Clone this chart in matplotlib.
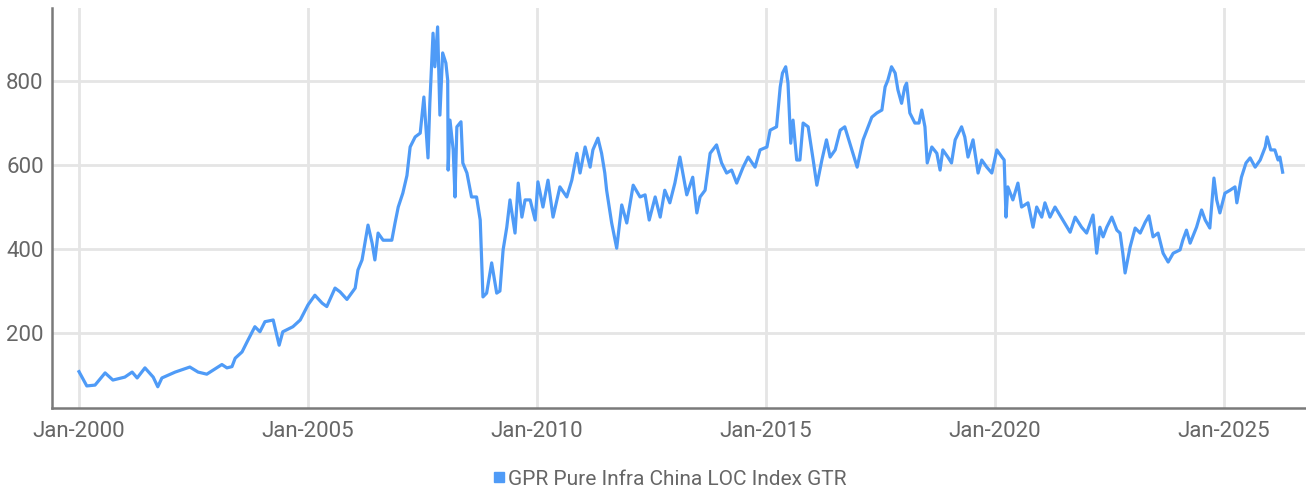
import matplotlib
matplotlib.use("Agg")
import matplotlib.pyplot as plt
from matplotlib.lines import Line2D

# Dates as fractional years, index values
t_years = [
    2000.00, 2000.17, 2000.35, 2000.57, 2000.74, 2001.00, 2001.16, 2001.27, 2001.44, 2001.62,
    2001.72, 2001.81, 2002.10, 2002.42, 2002.60, 2002.79, 2003.12, 2003.23, 2003.34, 2003.41,
    2003.56, 2003.67, 2003.84, 2003.95, 2004.06, 2004.24, 2004.37, 2004.45, 2004.67, 2004.83,
    2005.00, 2005.15, 2005.31, 2005.41, 2005.59, 2005.70, 2005.85, 2006.03, 2006.09, 2006.18,
    2006.31, 2006.40, 2006.46, 2006.53, 2006.64, 2006.83, 2006.90, 2006.97, 2007.07, 2007.16,
    2007.23, 2007.34, 2007.45, 2007.53, 2007.62, 2007.66, 2007.73, 2007.77, 2007.83, 2007.88,
    2007.94, 2008.01, 2008.05, 2008.06, 2008.10, 2008.17, 2008.21, 2008.25, 2008.34, 2008.38,
    2008.47, 2008.57, 2008.68, 2008.76, 2008.82, 2008.90, 2009.01, 2009.12, 2009.19, 2009.26,
    2009.34, 2009.41, 2009.52, 2009.59, 2009.67, 2009.74, 2009.85, 2009.96, 2010.02, 2010.13,
    2010.24, 2010.35, 2010.50, 2010.65, 2010.76, 2010.87, 2010.94, 2011.05, 2011.16, 2011.22,
    2011.33, 2011.41, 2011.48, 2011.52, 2011.63, 2011.74, 2011.85, 2011.96, 2012.10, 2012.25,
    2012.36, 2012.45, 2012.58, 2012.69, 2012.79, 2012.90, 2013.01, 2013.12, 2013.27, 2013.40,
    2013.49, 2013.56, 2013.67, 2013.78, 2013.92, 2014.03, 2014.14, 2014.25, 2014.36, 2014.50,
    2014.61, 2014.76, 2014.87, 2015.02, 2015.09, 2015.23, 2015.31, 2015.36, 2015.43, 2015.48,
    2015.54, 2015.59, 2015.67, 2015.74, 2015.81, 2015.92, 2016.03, 2016.11, 2016.22, 2016.32,
    2016.40, 2016.51, 2016.62, 2016.72, 2016.83, 2016.90, 2016.99, 2017.12, 2017.23, 2017.31,
    2017.42, 2017.53, 2017.60, 2017.66, 2017.74, 2017.82, 2017.88, 2017.96, 2018.03, 2018.07,
    2018.14, 2018.25, 2018.34, 2018.40, 2018.47, 2018.52, 2018.62, 2018.73, 2018.80, 2018.86,
    2018.97, 2019.05, 2019.13, 2019.27, 2019.34, 2019.41, 2019.52, 2019.63, 2019.71, 2019.82,
    2019.93, 2020.04, 2020.15, 2020.20, 2020.24, 2020.28, 2020.39, 2020.50, 2020.58, 2020.72,
    2020.83, 2020.91, 2021.02, 2021.09, 2021.20, 2021.31, 2021.48, 2021.64, 2021.75, 2021.89,
    2022.00, 2022.14, 2022.22, 2022.29, 2022.36, 2022.44, 2022.55, 2022.66, 2022.73, 2022.79,
    2022.84, 2022.95, 2023.06, 2023.17, 2023.28, 2023.36, 2023.45, 2023.56, 2023.67, 2023.78,
    2023.89, 2024.04, 2024.10, 2024.18, 2024.26, 2024.40, 2024.51, 2024.59, 2024.69, 2024.78,
    2024.84, 2024.91, 2025.02, 2025.13, 2025.24, 2025.28, 2025.38, 2025.48, 2025.57, 2025.68,
    2025.79, 2025.90, 2025.94, 2026.02, 2026.11, 2026.18, 2026.22, 2026.28,
]

index_values = [
    108, 74, 76, 105, 88, 95, 107, 93, 117, 95,
    72, 93, 107, 119, 107, 102, 125, 117, 120, 140,
    155, 179, 215, 203, 227, 231, 171, 203, 215, 231,
    267, 290, 271, 263, 307, 298, 280, 307, 350, 374,
    457, 414, 374, 438, 421, 421, 462, 500, 533, 575,
    643, 667, 676, 762, 617, 747, 914, 834, 929, 719,
    867, 843, 802, 588, 707, 636, 524, 691, 703, 605,
    581, 524, 524, 469, 286, 295, 367, 295, 300, 398,
    452, 517, 438, 557, 476, 517, 517, 469, 560, 500,
    564, 476, 548, 524, 564, 628, 581, 643, 595, 636,
    664, 628, 581, 540, 462, 402, 505, 462, 552, 524,
    529, 469, 524, 476, 540, 510, 557, 619, 529, 571,
    486, 524, 540, 628, 648, 605, 581, 588, 557, 595,
    619, 595, 636, 643, 683, 691, 786, 819, 834, 795,
    652, 707, 612, 612, 700, 691, 612, 552, 612, 660,
    619, 636, 683, 691, 652, 628, 595, 660, 691, 714,
    724, 731, 786, 802, 834, 819, 779, 747, 786, 795,
    724, 700, 700, 731, 691, 605, 643, 628, 588, 636,
    619, 605, 660, 691, 667, 619, 660, 581, 612, 595,
    581, 636, 619, 612, 476, 548, 517, 557, 500, 510,
    452, 500, 476, 510, 476, 500, 469, 440, 476, 452,
    438, 481, 390, 452, 429, 452, 476, 445, 438, 390,
    343, 405, 450, 438, 464, 479, 429, 438, 390, 369,
    390, 398, 421, 445, 414, 452, 493, 469, 450, 569,
    517, 486, 533, 540, 548, 510, 571, 605, 617, 595,
    612, 643, 667, 636, 636, 612, 619, 583,
]

tick_years = [2000, 2005, 2010, 2015, 2020, 2025]
tick_labels = ["Jan-2000", "Jan-2005", "Jan-2010", "Jan-2015", "Jan-2020", "Jan-2025"]
y_ticks = [200, 400, 600, 800]
series_name = "GPR Pure Infra China LOC Index GTR"

line_color = "#4f9bf7"
text_color = "#666666"
grid_color = "#e5e5e5"
spine_color = "#7a7a7a"
fam = ["Roboto", "DejaVu Sans"]

fig = plt.figure(figsize=(13.06, 4.90), dpi=100)
ax = fig.add_axes([0.0398, 0.1673, 0.9595, 0.8164])

ax.plot(t_years, index_values, color=line_color, linewidth=2.3, solid_joinstyle="round")

ax.set_xlim(1999.41, 2026.77)
ax.set_ylim(21.4, 974)
ax.set_xticks(tick_years)
ax.set_xticklabels(tick_labels)
ax.set_yticks(y_ticks)

ax.grid(True, color=grid_color, linewidth=2.0)
ax.set_axisbelow(True)
for s in ["top", "right"]:
    ax.spines[s].set_visible(False)
for s in ["left", "bottom"]:
    ax.spines[s].set_color(spine_color)
    ax.spines[s].set_linewidth(1.8)

ax.tick_params(axis="both", length=0, colors=text_color, labelsize=16)
ax.tick_params(axis="x", pad=9)
ax.tick_params(axis="y", pad=6)
for lab in ax.get_xticklabels() + ax.get_yticklabels():
    lab.set_family(fam)

handle = Line2D([], [], color=line_color, marker="s", linestyle="none", markersize=7.5)
leg = fig.legend([handle], [series_name], loc="center", bbox_to_anchor=(0.512, 0.022),
                 frameon=False, handletextpad=0.05, handlelength=0.8,
                 prop={"family": fam, "size": 15})
for t in leg.get_texts():
    t.set_color(text_color)

fig.savefig("out.png", dpi=100)
